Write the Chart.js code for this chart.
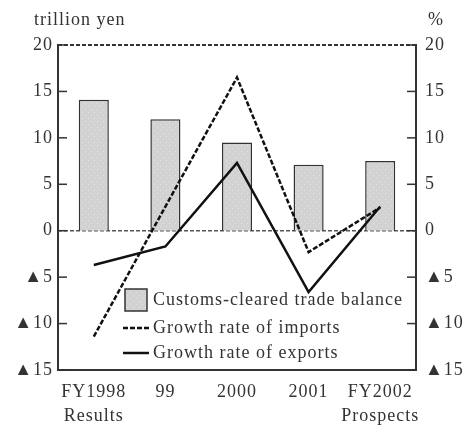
<!DOCTYPE html>
<html lang="en">
<head>
  <meta charset="utf-8">
  <title>Trade balance and growth rates</title>
  <script src="https://cdn.jsdelivr.net/npm/chart.js@4.4.1/dist/chart.umd.min.js"></script>
  <style>
    html, body { margin: 0; padding: 0; background: #fff; }
    #wrap { width: 463px; height: 427px; position: relative; }
  </style>
</head>
<body>
  <div id="wrap"><canvas id="myChart" width="463" height="427"></canvas></div>

  <script>
    // data
    var categories = [['FY1998', 'Results'], '99', '2000', '2001', ['FY2002', 'Prospects']];
    var tradeBalance = [14.1, 12.0, 9.5, 7.1, 7.5];     // trillion yen
    var importGrowth = [-11.4, 2.6, 16.5, -2.3, 2.5];   // %
    var exportGrowth = [-3.7, -1.7, 7.3, -6.6, 2.6];    // %
    var tickValues = [20, 15, 10, 5, 0, -5, -10, -15];

    var FONT = '"Liberation Serif", "DejaVu Serif", serif';
    var FSIZE = 18;
    var INK = '#333';

    // light gray fill with faint dots, like the scanned bars
    function barPattern() {
      var c = document.createElement('canvas');
      c.width = 6; c.height = 6;
      var g = c.getContext('2d');
      g.fillStyle = '#d2d2d2';
      g.fillRect(0, 0, 6, 6);
      g.fillStyle = '#e4e4e4';
      g.fillRect(1, 1, 1, 1);
      g.fillRect(4, 4, 1, 1);
      return g.createPattern(c, 'repeat');
    }

    function tickLabel(v) {
      return v < 0 ? '\u25B2' + Math.abs(v) : String(v);
    }

    // wide-set type, zero line, inward ticks, top border, units and legend
    var extras = {
      id: 'extras',
      beforeDraw: function (chart) {
        chart.ctx.letterSpacing = '1px';
      },
      beforeDatasetsDraw: function (chart) {
        var ctx = chart.ctx, a = chart.chartArea;
        var yl = chart.scales.y;
        ctx.save();
        ctx.strokeStyle = '#555';
        ctx.lineWidth = 1.5;
        ctx.setLineDash([4, 2]);
        var z = yl.getPixelForValue(0);
        ctx.beginPath(); ctx.moveTo(a.left, z); ctx.lineTo(a.right, z); ctx.stroke();
        ctx.restore();
      },
      afterDraw: function (chart) {
        var ctx = chart.ctx, a = chart.chartArea;
        var yl = chart.scales.y, yr = chart.scales.y2;
        ctx.save();
        // top border
        ctx.strokeStyle = INK;
        ctx.lineWidth = 2;
        ctx.setLineDash([4, 2]);
        ctx.beginPath(); ctx.moveTo(a.left, a.top); ctx.lineTo(a.right, a.top); ctx.stroke();
        ctx.setLineDash([]);
        // ticks pointing into the plot
        ctx.lineWidth = 1.5;
        tickValues.forEach(function (v) {
          var p = yl.getPixelForValue(v);
          ctx.beginPath(); ctx.moveTo(a.left, p); ctx.lineTo(a.left + 9, p); ctx.stroke();
          p = yr.getPixelForValue(v);
          ctx.beginPath(); ctx.moveTo(a.right, p); ctx.lineTo(a.right - 9, p); ctx.stroke();
        });
        // units
        ctx.fillStyle = INK;
        ctx.font = FSIZE + 'px ' + FONT;
        ctx.textBaseline = 'middle';
        ctx.textAlign = 'left';
        ctx.fillText('trillion yen', 34, 20);
        ctx.fillText('%', 428, 20);
        // legend
        var lx = 125, ly = [300, 328, 353];
        ctx.fillStyle = barPattern();
        ctx.fillRect(lx, ly[0] - 11, 22, 22);
        ctx.strokeStyle = INK;
        ctx.lineWidth = 1.5;
        ctx.strokeRect(lx, ly[0] - 11, 22, 22);
        ctx.lineWidth = 2.5;
        ctx.strokeStyle = '#111';
        ctx.setLineDash([5, 2]);
        ctx.beginPath(); ctx.moveTo(lx - 2, ly[1]); ctx.lineTo(lx + 24, ly[1]); ctx.stroke();
        ctx.setLineDash([]);
        ctx.beginPath(); ctx.moveTo(lx - 2, ly[2]); ctx.lineTo(lx + 24, ly[2]); ctx.stroke();
        ctx.fillStyle = INK;
        chart.data.datasets.forEach(function (ds, i) {
          ctx.fillText(ds.label, lx + 28, ly[i]);
        });
        ctx.restore();
      }
    };

    var ctx = document.getElementById('myChart');
    var myChart = new Chart(ctx, {
      type: 'bar',
      data: {
        labels: categories,
        datasets: [
          {
            label: 'Customs-cleared trade balance',
            data: tradeBalance,
            yAxisID: 'y',
            backgroundColor: barPattern(),
            borderColor: INK,
            borderWidth: 1.5,
            categoryPercentage: 1,
            barPercentage: 0.42,
            order: 3
          },
          {
            type: 'line',
            label: 'Growth rate of imports',
            data: importGrowth,
            yAxisID: 'y2',
            borderColor: '#111',
            borderWidth: 2.5,
            borderDash: [5, 2],
            pointRadius: 0,
            tension: 0,
            order: 1
          },
          {
            type: 'line',
            label: 'Growth rate of exports',
            data: exportGrowth,
            yAxisID: 'y2',
            borderColor: '#111',
            borderWidth: 2.5,
            pointRadius: 0,
            tension: 0,
            order: 2
          }
        ]
      },
      options: {
        responsive: false,
        animation: false,
        layout: { padding: { top: 45, left: 0, right: 0, bottom: 0 } },
        plugins: {
          legend: { display: false },
          tooltip: { enabled: false }
        },
        scales: {
          x: {
            grid: { display: false, drawTicks: false },
            border: { color: INK, width: 2 },
            ticks: {
              color: INK,
              font: { family: FONT, size: FSIZE, lineHeight: 1.35 },
              padding: 10,
              maxRotation: 0,
              autoSkip: false
            },
            afterFit: function (s) { s.height = 57; }
          },
          y: {
            position: 'left',
            min: -15, max: 20,
            afterBuildTicks: function (s) { s.ticks = tickValues.map(function (v) { return { value: v }; }); },
            grid: { display: false, drawTicks: false },
            border: { color: INK, width: 2 },
            ticks: {
              color: INK,
              font: { family: FONT, size: FSIZE },
              padding: 5,
              callback: tickLabel
            },
            afterFit: function (s) { s.width = 58; }
          },
          y2: {
            position: 'right',
            min: -15, max: 20,
            afterBuildTicks: function (s) { s.ticks = tickValues.map(function (v) { return { value: v }; }); },
            grid: { display: false, drawTicks: false },
            border: { color: INK, width: 2 },
            ticks: {
              color: INK,
              font: { family: FONT, size: FSIZE },
              padding: 9,
              callback: tickLabel
            },
            afterFit: function (s) { s.width = 47; }
          }
        }
      },
      plugins: [extras]
    });
  </script>
</body>
</html>
